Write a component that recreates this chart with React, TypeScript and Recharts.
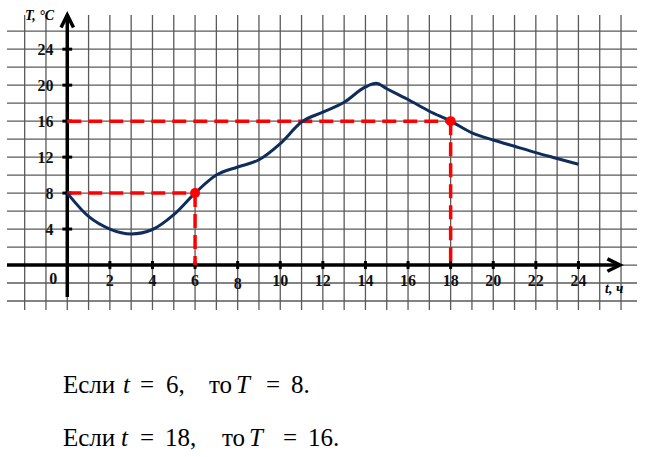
import React from 'react';
import { ComposedChart, Line, XAxis, YAxis, ReferenceLine, ReferenceDot } from 'recharts';

// temperature curve
const hours = [0, 1, 2, 3, 4, 5, 6, 7, 8, 9, 10, 11, 12, 13, 14, 14.5, 15, 16, 17, 18, 19, 20, 21, 22, 23, 24];
const temps = [8, 5.4, 4.0, 3.45, 3.95, 5.6, 8, 10, 10.9, 11.7, 13.5, 15.9, 17, 18.1, 19.8, 20.2, 19.6, 18.4, 17.1, 16, 14.7, 13.9, 13.2, 12.5, 11.85, 11.2];

// marked readings (t -> T)
const markHours = [6, 18];
const markTemps = [8, 16];

const xTicks = [2, 4, 6, 8, 10, 12, 14, 16, 18, 20, 22, 24];
const yTicks = [4, 8, 12, 16, 20, 24];

const gridX = [-2, -1, 0, 1, 2, 3, 4, 5, 6, 7, 8, 9, 10, 11, 12, 13, 14, 15, 16, 17, 18, 19, 20, 21, 22, 23, 24, 25, 26];
const gridY = [-4, -2, 0, 2, 4, 6, 8, 10, 12, 14, 16, 18, 20, 22, 24, 26];

const data = hours.map((t, i) => ({ t, T: temps[i] }));

const X_DOMAIN: [number, number] = [-2.83, 26.75];
const Y_DOMAIN: [number, number] = [-5, 27.8];

const tickFont = { fontFamily: '"Liberation Serif", serif', fontWeight: 700, fontSize: 16, fill: '#111' };

// the two sentences under the graph: [text, left px, italic]
const line1: [string, number, boolean][] = [
  ['Если', 63, false], ['t', 123, true], ['=', 140, false], ['6,', 166, false],
  ['то', 209, false], ['T', 236, true], ['=', 266, false], ['8.', 291, false],
];
const line2: [string, number, boolean][] = [
  ['Если', 63, false], ['t', 121, true], ['=', 140, false], ['18,', 165, false],
  ['то', 222, false], ['T', 249, true], ['=', 283, false], ['16.', 308, false],
];

const ArrowAxis = (props: any) => {
  const { x1, y1, x2, y2 } = props;
  const ang = Math.atan2(y2 - y1, x2 - x1);
  const len = 14;
  const spread = 0.46;
  const a = [x2 - len * Math.cos(ang - spread), y2 - len * Math.sin(ang - spread)];
  const b = [x2 - len * Math.cos(ang + spread), y2 - len * Math.sin(ang + spread)];
  return (
    <g>
      <line x1={x1} y1={y1} x2={x2} y2={y2} stroke="#000" strokeWidth={3.5} />
      <polyline
        points={`${a[0]},${a[1]} ${x2},${y2} ${b[0]},${b[1]}`}
        fill="none"
        stroke="#000"
        strokeWidth={3.5}
        strokeLinejoin="miter"
      />
    </g>
  );
};

const axisName: React.CSSProperties = {
  position: 'absolute',
  fontFamily: '"Liberation Serif", serif',
  fontStyle: 'italic',
  fontWeight: 700,
  fontSize: 14,
  lineHeight: '14px',
  whiteSpace: 'pre',
};

const Sentence = ({ parts, top }: { parts: [string, number, boolean][]; top: number }) => (
  <>
    {parts.map(([txt, left, it], i) => (
      <span
        key={i}
        style={{
          position: 'absolute',
          left,
          top,
          fontFamily: '"Liberation Serif", serif',
          fontSize: 25,
          lineHeight: '25px',
          fontStyle: it ? 'italic' : 'normal',
          whiteSpace: 'pre',
          color: '#000',
        }}
      >
        {txt}
      </span>
    ))}
  </>
);

export default function App() {
  return (
    <div style={{ position: 'absolute', left: 0, top: 0, width: 646, height: 457, background: '#fff' }}>
      <ComposedChart width={646} height={457} data={data} margin={{ top: 15, right: 9, bottom: 147, left: 7 }}>
        <XAxis type="number" dataKey="t" domain={X_DOMAIN} scale="linear" allowDataOverflow hide />
        <YAxis type="number" domain={Y_DOMAIN} scale="linear" allowDataOverflow hide />

        {gridX.map((v) => (
          <ReferenceLine key={`gx${v}`} x={v} stroke="#5a5a5a" strokeWidth={1.3} />
        ))}
        {gridY.map((v) => (
          <ReferenceLine key={`gy${v}`} y={v} stroke="#5a5a5a" strokeWidth={1.3} />
        ))}

        {/* axes with arrows */}
        <ReferenceLine segment={[{ x: X_DOMAIN[0], y: 0 }, { x: 25.95, y: 0 }]} shape={ArrowAxis} />
        <ReferenceLine segment={[{ x: 0, y: -3.55 }, { x: 0, y: Y_DOMAIN[1] }]} shape={ArrowAxis} />

        {xTicks.map((v) => (
          <ReferenceLine
            key={`xt${v}`}
            segment={[{ x: v, y: 0.45 }, { x: v, y: -0.45 }]}
            stroke="#000"
            strokeWidth={3}
            label={{ value: String(v), position: 'bottom', offset: v === 8 ? 9 : 6, ...tickFont }}
          />
        ))}
        {yTicks.map((v) => (
          <ReferenceLine
            key={`yt${v}`}
            segment={[{ x: -0.23, y: v }, { x: 0.23, y: v }]}
            stroke="#000"
            strokeWidth={3}
            label={{ value: String(v), position: 'left', offset: 9, ...tickFont }}
          />
        ))}
        <ReferenceDot
          x={0}
          y={0}
          r={0}
          stroke="none"
          label={{
            content: (p: any) => (
              <text x={p.viewBox.x - 14} y={p.viewBox.y + 19} textAnchor="middle" {...tickFont}>
                0
              </text>
            ),
          }}
        />

        {/* dashed guides to the marked readings */}
        {markHours.map((t, i) => (
          <ReferenceLine
            key={`mh${t}`}
            segment={[{ x: 0, y: markTemps[i] }, { x: t, y: markTemps[i] }]}
            stroke="#ff0000"
            strokeWidth={3.5}
            strokeDasharray="14 7"
          />
        ))}
        {markHours.map((t, i) => (
          <ReferenceLine
            key={`mv${t}`}
            segment={[{ x: t, y: markTemps[i] }, { x: t, y: 0 }]}
            stroke="#ff0000"
            strokeWidth={3.5}
            strokeDasharray="14 7"
          />
        ))}

        <Line
          type="monotone"
          dataKey="T"
          stroke="#0e2d5c"
          strokeWidth={3}
          dot={false}
          activeDot={false}
          isAnimationActive={false}
        />

        {markHours.map((t, i) => (
          <ReferenceDot key={`md${t}`} x={t} y={markTemps[i]} r={5} fill="#ff0000" stroke="none" />
        ))}
      </ComposedChart>

      <div style={{ ...axisName, left: 25, top: 9 }}>T, °C</div>
      <div style={{ ...axisName, left: 605, top: 282 }}>t, ч</div>

      <Sentence parts={line1} top={372} />
      <Sentence parts={line2} top={425} />
    </div>
  );
}
